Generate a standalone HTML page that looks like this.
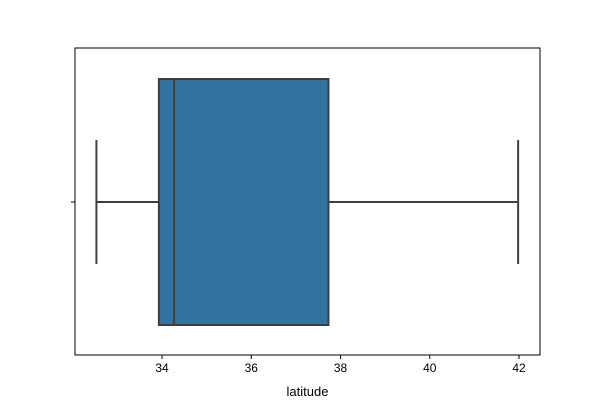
<!DOCTYPE html>
<html><head><meta charset="utf-8"><style>
body{margin:0;background:#fff;}
svg{display:block;font-family:"Liberation Sans","DejaVu Sans",sans-serif;}
</style></head><body>
<svg id="chart" width="600" height="400"></svg>
<script>
const categories = ["latitude"];
const whiskerLow = [32.53];
const q1 = [33.93];
const median = [34.27];
const q3 = [37.73];
const whiskerHigh = [41.98];
const tickLabels = [34, 36, 38, 40, 42];

const L=75,R=540,T=48,B=355, xmin=32.05, xmax=42.47;
const x=v=>L+(v-xmin)/(xmax-xmin)*(R-L);
const svg=document.getElementById('chart');
const NS='http://www.w3.org/2000/svg';
function mk(tag,attrs,parent){const e=document.createElementNS(NS,tag);for(const k in attrs)e.setAttribute(k,attrs[k]);(parent||svg).appendChild(e);return e;}
const cy=202, half=123, cap=62, col='#3f3f3f';
categories.forEach((c,i)=>{
  const g=mk('g',{});
  
  
  const wl=mk('line',{x1:x(whiskerLow[i]),x2:x(q1[i]),y1:cy,y2:cy,stroke:col,'stroke-width':2},g);
  
  
  const wh=mk('line',{x1:x(q3[i]),x2:x(whiskerHigh[i]),y1:cy,y2:cy,stroke:col,'stroke-width':2},g);
  
  
  const cl=mk('line',{x1:x(whiskerLow[i]),x2:x(whiskerLow[i]),y1:cy-cap,y2:cy+cap,stroke:col,'stroke-width':2},g);
  
  
  const ch=mk('line',{x1:x(whiskerHigh[i]),x2:x(whiskerHigh[i]),y1:cy-cap,y2:cy+cap,stroke:col,'stroke-width':2},g);
  
  
  const b=mk('rect',{x:x(q1[i]),y:cy-half,width:x(q3[i])-x(q1[i]),height:2*half,fill:'#3274a1',stroke:col,'stroke-width':2},g);
  
  
  const m=mk('line',{x1:x(median[i]),x2:x(median[i]),y1:cy-half,y2:cy+half,stroke:col,'stroke-width':2},g);
  
  
});
const frame=mk('rect',{x:L,y:T,width:R-L,height:B-T,fill:'none',stroke:'#000','stroke-width':1});


const yt=mk('line',{x1:L-4,x2:L,y1:cy,y2:cy,stroke:'#000'});


tickLabels.forEach(t=>{
  const tk=mk('line',{x1:x(t),x2:x(t),y1:B,y2:B+4,stroke:'#000'});
  
  
  const tl=mk('text',{x:x(t),y:B+17,'text-anchor':'middle','font-size':12,fill:'#000'});
  tl.textContent=t;
  
  
});
const xl=mk('text',{x:(L+R)/2,y:B+41,'text-anchor':'middle','font-size':13,fill:'#000'});
xl.textContent=categories[0];


</script>
</body></html>
